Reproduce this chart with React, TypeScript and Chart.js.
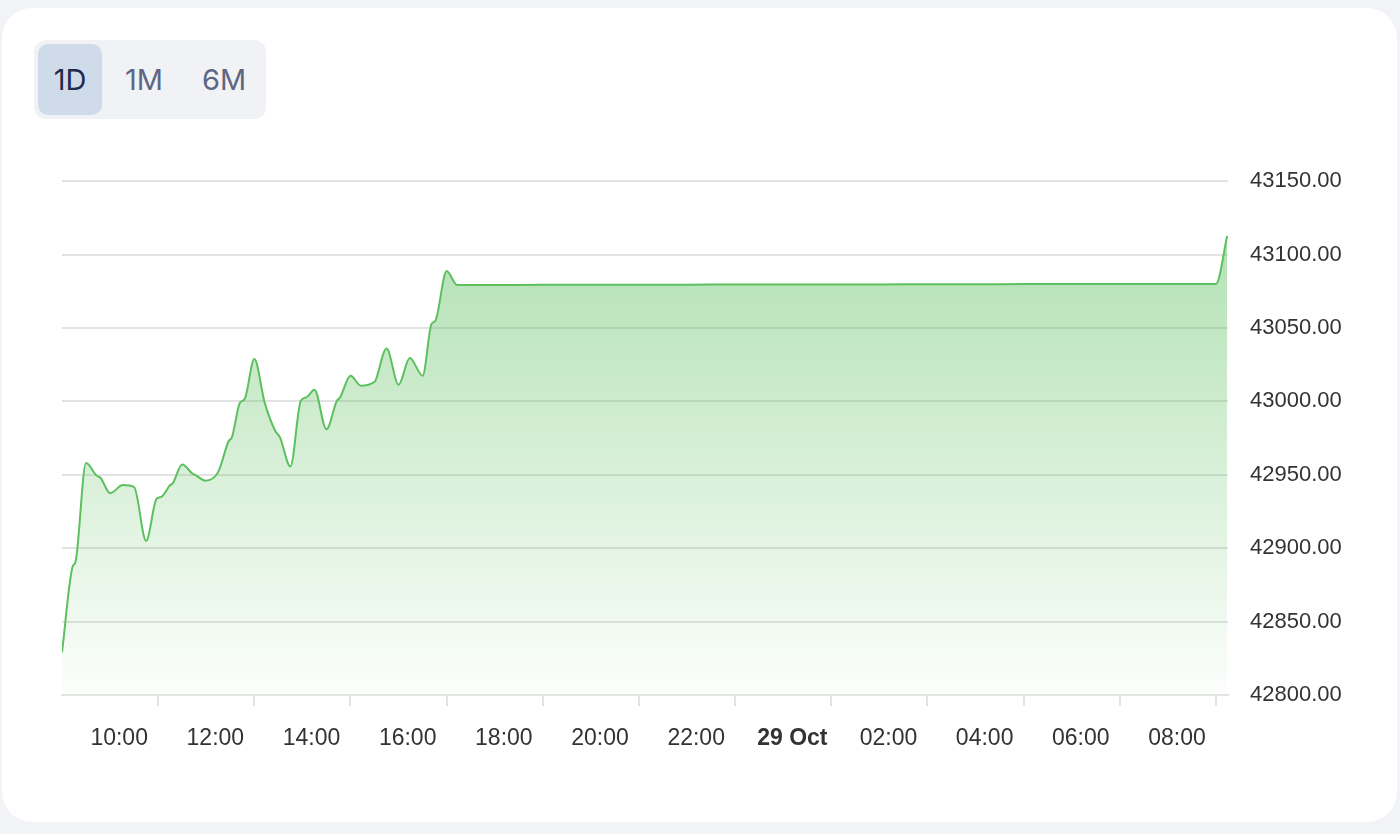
import React, { useEffect, useRef } from "react";
import { Chart, registerables } from "chart.js";

Chart.register(...registerables);

// minutes since 00:00 of 28 Oct
const TIMES_MIN = [480, 493, 497, 510, 523, 528, 540, 556, 570, 585, 598, 604, 615, 618, 630, 643, 646, 659, 675, 688, 692, 702, 708, 720, 733, 746, 752, 765, 778, 785, 795, 810, 823, 827, 840, 853, 869, 871, 885, 900, 914, 930, 941, 946, 960, 973, 1020, 1080, 1140, 1200, 1260, 1320, 1380, 1440, 1500, 1560, 1620, 1680, 1740, 1800, 1860, 1920, 1934];
const PRICES = [42829, 42887, 42891, 42958, 42949.5, 42948, 42937.5, 42943, 42941.6, 42905, 42933.7, 42935, 42943, 42944, 42957, 42950.7, 42950, 42946, 42952, 42973, 42975.5, 42999, 43001.6, 43028.8, 42999, 42980, 42975.5, 42955.6, 43000.5, 43002.7, 43008, 42981, 43000.5, 43002.7, 43017.5, 43010.7, 43013, 43014, 43036, 43011.4, 43029.5, 43017.5, 43052.6, 43055, 43088.8, 43079.3, 43079.3, 43079.4, 43079.4, 43079.5, 43079.5, 43079.6, 43079.6, 43079.7, 43079.7, 43079.8, 43079.8, 43079.9, 43079.9, 43080, 43080, 43080, 43112.6];
const X_TICKS = [600, 720, 840, 960, 1080, 1200, 1320, 1440, 1560, 1680, 1800, 1920];
const DAY_LABEL = "29 Oct";
const RANGES = ["1D", "1M", "6M"];

const AXIS_FONT = "'Liberation Sans', Arial, Helvetica, sans-serif";

function ChartView() {
  const ref = useRef<HTMLCanvasElement | null>(null);
  useEffect(() => {
    if (!ref.current) return;
    const chart = new Chart(ref.current, {
      type: "line",
      data: {
        datasets: [
          {
            data: TIMES_MIN.map((t, i) => ({ x: t, y: PRICES[i] })),
            borderColor: "#5cc05e",
            borderWidth: 2,
            pointRadius: 0,
            cubicInterpolationMode: "monotone",
            fill: "start",
            backgroundColor: (ctx: any) => {
              const { chart } = ctx;
              const area = chart.chartArea;
              if (!area) return "rgba(92,192,94,0.3)";
              const g = chart.ctx.createLinearGradient(0, area.top, 0, area.bottom);
              g.addColorStop(0, "rgba(92,192,94,0.52)");
              g.addColorStop(1, "rgba(92,192,94,0.02)");
              return g;
            },
          },
        ],
      },
      options: {
        animation: false,
        responsive: false,
        layout: { padding: { left: 10, top: 0, right: 0, bottom: 0 } },
        plugins: { legend: { display: false }, tooltip: { enabled: false } },
        scales: {
          x: {
            type: "linear",
            min: 480,
            max: 1935,
            afterBuildTicks: (scale: any) => {
              scale.ticks = X_TICKS.map((v) => ({ value: v }));
            },
            afterFit: (scale: any) => {
              scale.height = 60;
            },
            grid: {
              display: true,
              drawOnChartArea: false,
              drawTicks: true,
              tickLength: 11,
              color: "#e3e3e3",
              lineWidth: 2,
            },
            border: { display: true, color: "#e3e3e3", width: 2 },
            ticks: {
              autoSkip: false,
              maxRotation: 0,
              labelOffset: -39,
              padding: 19,
              color: "#333333",
              font: (ctx: any) => ({
                family: AXIS_FONT,
                size: 23,
                weight: ctx.tick && ctx.tick.value === 1440 ? "bold" : "normal",
              }),
              callback: (v: any) => {
                const val = Number(v);
                if (val === 1440) return DAY_LABEL;
                const h = Math.floor(val / 60) % 24;
                return String(h).padStart(2, "0") + ":00";
              },
            },
          },
          y: {
            position: "right",
            min: 42800,
            max: 43150,
            afterFit: (scale: any) => {
              scale.width = 132;
            },
            grid: { drawTicks: false, color: "#e3e3e3", lineWidth: 2 },
            border: { display: false },
            ticks: {
              stepSize: 50,
              padding: 22,
              color: "#333333",
              font: { family: AXIS_FONT, size: 22 },
              callback: (v: any) => Number(v).toFixed(2),
            },
          },
        },
      },
    } as any);
    return () => chart.destroy();
  }, []);
  return <canvas ref={ref} width={1308} height={609} style={{ width: 1308, height: 609, display: "block" }} />;
}

export default function App() {
  return (
    <div style={{ position: "fixed", inset: 0, background: "#f2f3f7", overflow: "hidden" }}>
      <div
        style={{
          position: "absolute",
          left: 2,
          top: 8,
          width: 1395,
          height: 814,
          background: "#ffffff",
          borderRadius: 30,
        }}
      />
      <div
        style={{
          position: "absolute",
          left: 34,
          top: 40,
          width: 232,
          height: 79,
          background: "#f0f2f6",
          borderRadius: 12,
        }}
      />
      {RANGES.map((r, i) => (
        <div
          key={r}
          style={{
            position: "absolute",
            left: [38, 112, 192][i],
            top: 44,
            width: 64,
            height: 71,
            borderRadius: 10,
            background: i === 0 ? "#cfdbe8" : "transparent",
            color: i === 0 ? "#1f2a4d" : "#5f6681",
            fontFamily: "Inter, 'Noto Sans', sans-serif",
            fontSize: 29,
            display: "flex",
            alignItems: "center",
            justifyContent: "center",
          }}
        >
          {r}
        </div>
      ))}
      <div style={{ position: "absolute", left: 52, top: 146 }}>
        <ChartView />
      </div>
    </div>
  );
}
